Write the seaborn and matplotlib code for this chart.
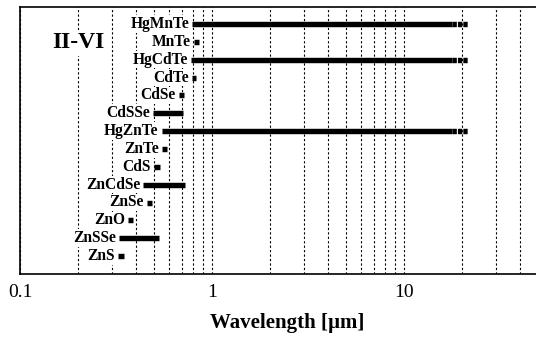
import numpy as np
import pandas as pd
import matplotlib
matplotlib.use("Agg")
import matplotlib.pyplot as plt
from matplotlib.ticker import LogLocator, FixedLocator, FixedFormatter, NullFormatter
import seaborn as sns

# II-VI compounds and the wavelength span each one covers (µm)
materials = ["HgMnTe", "MnTe", "HgCdTe", "CdTe", "CdSe", "CdSSe", "HgZnTe",
             "ZnTe", "CdS", "ZnCdSe", "ZnSe", "ZnO", "ZnSSe", "ZnS"]
range_start = [0.79, 0.807, 0.775, 0.79, 0.673, 0.493, 0.547,
               0.548, 0.499, 0.439, 0.457, 0.365, 0.329, 0.325]
range_end = [17.8, 0.857, 17.8, 0.83, 0.715, 0.707, 17.8,
             0.585, 0.536, 0.723, 0.485, 0.387, 0.53, 0.348]
# open-ended continuation drawn dashed beyond the solid span
extended_end = [21.5, np.nan, 21.5, np.nan, np.nan, np.nan, 21.5,
                np.nan, np.nan, np.nan, np.nan, np.nan, np.nan, np.nan]

tick_values = [0.1, 1, 10]
tick_labels = ["0.1", "1", "10"]

sns.set_theme(style="white", rc={
    "text.color": "black", "axes.edgecolor": "black",
    "xtick.color": "black", "axes.labelcolor": "black",
})
plt.rcParams["font.family"] = ["Liberation Serif", "DejaVu Serif"]

W, H = 536, 338
fig = plt.figure(figsize=(W / 100, H / 100), dpi=100)
ax = fig.add_axes([20 / W, (H - 274) / H, 576 / W, 267 / H])

rows = np.arange(len(materials))
solid = pd.DataFrame({
    "material": materials * 2,
    "row": np.concatenate([rows, rows]),
    "wavelength": range_start + range_end,
})
sns.lineplot(data=solid, x="wavelength", y="row", units="material",
             estimator=None, sort=False, color="black", linewidth=3.9,
             solid_capstyle="butt", legend=False, ax=ax)

ext_mask = ~np.isnan(np.array(extended_end))
ext_names = [m for m, k in zip(materials, ext_mask) if k]
ext_rows = rows[ext_mask]
ext = pd.DataFrame({
    "material": ext_names * 2,
    "row": np.concatenate([ext_rows, ext_rows]),
    "wavelength": list(np.array(range_end)[ext_mask]) + list(np.array(extended_end)[ext_mask]),
})
sns.lineplot(data=ext, x="wavelength", y="row", units="material",
             estimator=None, sort=False, color="black", linewidth=3.9,
             linestyle=(0, (0.8, 0.2)), dash_capstyle="butt",
             legend=False, ax=ax)

ax.set_xscale("log")
ax.set_xlim(0.1, 100)
ax.set_ylim((274 - 24) / 17.85, (7 - 24) / 17.85)

ax.xaxis.set_major_locator(FixedLocator(tick_values))
ax.xaxis.set_major_formatter(FixedFormatter(tick_labels))
ax.xaxis.set_minor_locator(LogLocator(base=10, subs=np.arange(2, 10)))
ax.xaxis.set_minor_formatter(NullFormatter())
ax.set_yticks([])
ax.tick_params(axis="x", which="both", length=0, pad=7, labelsize=14)
ax.grid(True, which="both", axis="x", color="black",
        linestyle=(0, (2, 2)), linewidth=0.8)
ax.set_axisbelow(True)
ax.set_xlabel("")
ax.set_ylabel("")
for side in ["left", "top", "bottom", "right"]:
    ax.spines[side].set_linewidth(1.2)
    ax.spines[side].set_color("black")

for name, r, s in zip(materials, rows, range_start):
    ax.annotate(name, xy=(s, r), xytext=(-2.2, 0), textcoords="offset points",
                ha="right", va="center", fontsize=11.2, fontweight="bold",
                bbox=dict(boxstyle="square,pad=0.05", fc="white", ec="none"),
                zorder=5)

ax.text(0.148, 1.06, "II-VI", ha="left", va="center", fontsize=17,
        fontweight="bold",
        bbox=dict(boxstyle="square,pad=0.1", fc="white", ec="none"), zorder=5)

fig.text(287.5 / W, 1 - 328 / H, "Wavelength [µm]", ha="center",
         va="baseline", fontsize=15, fontweight="bold")

fig.savefig("out.png", dpi=100)
